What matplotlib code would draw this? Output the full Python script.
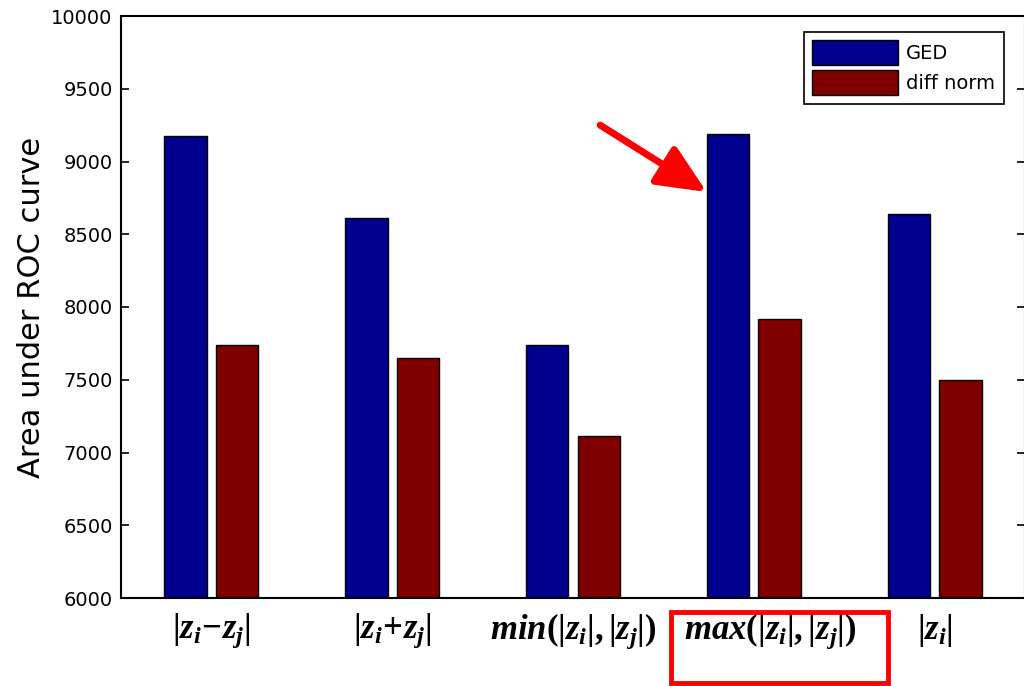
import numpy as np
import matplotlib
matplotlib.use('Agg')
import matplotlib.pyplot as plt
import matplotlib.transforms as mtransforms
from matplotlib.patches import Rectangle

plt.rcParams['font.family'] = ['DejaVu Sans']
plt.rcParams['mathtext.fontset'] = 'custom'
plt.rcParams['mathtext.it'] = 'Liberation Serif:italic:bold'
plt.rcParams['mathtext.rm'] = 'Liberation Serif:bold'
plt.rcParams['mathtext.bf'] = 'Liberation Serif:italic:bold'

# data
categories = [r'$|z_i\!-\!z_j|$', r'$|z_i\!+\!z_j|$', r'$min(|z_i|,|z_j|)$',
              r'$max(|z_i|,|z_j|)$', r'$|z_i|$']
ged = [9175, 8615, 7742, 9192, 8637]
diff_norm = [7742, 7652, 7113, 7920, 7500]
series_labels = ['GED', 'diff norm']
yticks = [6000, 6500, 7000, 7500, 8000, 8500, 9000, 9500, 10000]

fig = plt.figure(figsize=(10.24, 6.86), dpi=100, facecolor='white')
ax = fig.add_axes([121/1024, 88/686, 904/1024, 582/686])

x = np.arange(1, len(categories) + 1)
off = 0.143 #offset of each bar from the group centre
w = 0.235 #bar width

ax.bar(x - off, ged, w, color='#00008f', edgecolor='black', linewidth=1, label=series_labels[0])
ax.bar(x + off, diff_norm, w, color='#800000', edgecolor='black', linewidth=1, label=series_labels[1])

ax.set_xlim(0.5, 5.5)
ax.set_ylim(6000, 10000)
ax.set_yticks(yticks)
ax.set_xticks(x)
ax.set_xticklabels(categories, fontsize=25)
ax.tick_params(axis='x', length=0, pad=10)
ax.tick_params(axis='y', direction='in', length=6, width=1.2, labelsize=14, right=True, pad=6)
ax.set_ylabel('Area under ROC curve', fontsize=22, labelpad=4)

# the max label sits a little to the right in the original
lab = ax.get_xticklabels()[3]
lab.set_transform(lab.get_transform() + mtransforms.ScaledTranslation(0.16, 0, fig.dpi_scale_trans))

for s in ax.spines.values():
	s.set_linewidth(1.5)

leg = ax.legend(loc='upper right', bbox_to_anchor=(0.987, 0.99), fontsize=14, frameon=True,
	fancybox=False, edgecolor='black', framealpha=1, handlelength=4.4, handleheight=1.6,
	borderpad=0.45, labelspacing=0.25, handletextpad=0.4)
leg.get_frame().set_linewidth(1.2)

# red arrow pointing at the best GED bar
tip_x = x[3] - off - w / 2
ax.annotate('', xy=(tip_x, 8790), xytext=(3.15, 9250),
	arrowprops=dict(arrowstyle='-|>,head_length=2.0,head_width=0.9', color='red', lw=5,
	mutation_scale=15, shrinkA=0, shrinkB=0))

# red box around the max label
fig.patches.append(Rectangle((671/1024, 3/686), 217/1024, 71/686, transform=fig.transFigure,
	fill=False, edgecolor='red', linewidth=3.5))

plt.savefig('out.png', dpi=100, facecolor='white')
